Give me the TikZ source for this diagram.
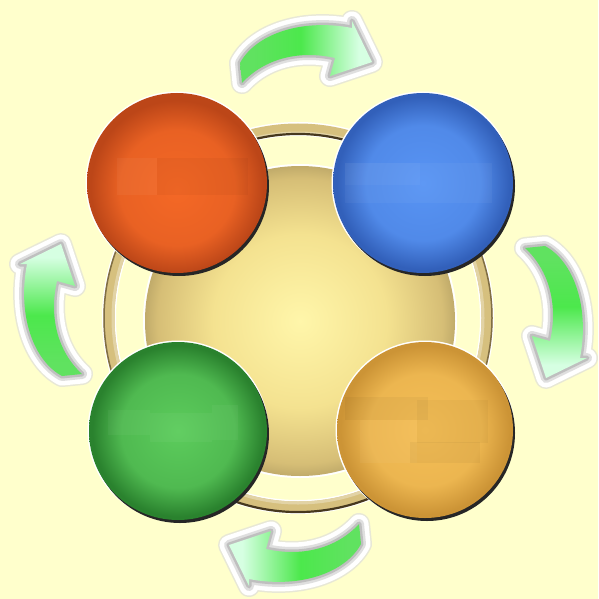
\documentclass[tikz,border=0pt]{standalone}
\definecolor{bg}{RGB}{255,255,204}
\definecolor{halo}{RGB}{232,232,214}
\definecolor{ringtan}{RGB}{214,192,126}
\definecolor{ringdark}{RGB}{70,56,30}
\definecolor{tailc}{RGB}{96,226,96}
\definecolor{midc}{RGB}{76,232,76}
\definecolor{headc}{RGB}{214,255,226}
\definecolor{ctrin}{RGB}{255,246,170}
\definecolor{ctrmid}{RGB}{244,226,144}
\definecolor{ctrout}{RGB}{214,190,118}
\definecolor{orin}{RGB}{244,104,38}
\definecolor{orout}{RGB}{188,70,24}
\definecolor{blin}{RGB}{88,148,244}
\definecolor{blout}{RGB}{50,96,186}
\definecolor{grin}{RGB}{92,204,92}
\definecolor{grout}{RGB}{42,130,46}
\definecolor{goin}{RGB}{244,190,86}
\definecolor{goout}{RGB}{204,148,54}
\pgfdeclarehorizontalshading{arrowshade}{100bp}{color(0bp)=(tailc); color(30bp)=(tailc); color(48bp)=(midc); color(70bp)=(headc); color(100bp)=(headc)}
\pgfdeclareradialshading{ctrshade}{\pgfpoint{0bp}{0bp}}{color(0bp)=(ctrin); color(14bp)=(ctrmid); color(23bp)=(ctrout); color(25bp)=(ctrout!90!black); color(50bp)=(ctrout)}
\pgfdeclareradialshading{orshade}{\pgfpoint{0bp}{-2bp}}{color(0bp)=(orin); color(16bp)=(orin!80!orout); color(24bp)=(orout); color(50bp)=(orout)}
\pgfdeclareradialshading{blshade}{\pgfpoint{0bp}{0bp}}{color(0bp)=(blin); color(16bp)=(blin!80!blout); color(24bp)=(blout); color(50bp)=(blout)}
\pgfdeclareradialshading{grshade}{\pgfpoint{0bp}{0bp}}{color(0bp)=(grin); color(16bp)=(grin!75!grout); color(24bp)=(grout); color(50bp)=(grout)}
\pgfdeclareradialshading{goshade}{\pgfpoint{0bp}{0bp}}{color(0bp)=(goin); color(16bp)=(goin!80!goout); color(24bp)=(goout); color(50bp)=(goout)}
\tikzset{
  cyclearrow/.pic={
    \draw[line width=22pt, draw=halo, line join=round]
      (-60,-247) .. controls (-45,-275) and (0,-292) .. (52,-282) -- (52,-289) -- (72,-248) -- (30,-234) -- (35,-252) .. controls (0,-260) and (-35,-252) .. (-58,-227) -- cycle;
    \draw[line width=19pt, draw=white, line join=round]
      (-60,-247) .. controls (-45,-275) and (0,-292) .. (52,-282) -- (52,-289) -- (72,-248) -- (30,-234) -- (35,-252) .. controls (0,-260) and (-35,-252) .. (-58,-227) -- cycle;
    \draw[line width=10pt, draw=gray!25, line join=round]
      (-60,-247) .. controls (-45,-275) and (0,-292) .. (52,-282) -- (52,-289) -- (72,-248) -- (30,-234) -- (35,-252) .. controls (0,-260) and (-35,-252) .. (-58,-227) -- cycle;
    \draw[line width=5pt, draw=gray!50, line join=round]
      (-60,-247) .. controls (-45,-275) and (0,-292) .. (52,-282) -- (52,-289) -- (72,-248) -- (30,-234) -- (35,-252) .. controls (0,-260) and (-35,-252) .. (-58,-227) -- cycle;
    \shade[shading=arrowshade, shading angle=#1]
      (-60,-247) .. controls (-45,-275) and (0,-292) .. (52,-282) -- (52,-289) -- (72,-248) -- (30,-234) -- (35,-252) .. controls (0,-260) and (-35,-252) .. (-58,-227) -- cycle;
  },
  ballhalo/.style={fill=white},
  ballshadow/.style={fill=black!85},
  label band/.style={fill=white, fill opacity=0.04}
}
\begin{document}
\begin{tikzpicture}[x=1pt,y=-1pt]
\useasboundingbox (0,0) rectangle (598,599);
\fill[bg] (0,0) rectangle (598,599);

% curved arrows (clockwise cycle)
\pic at (300,310) {cyclearrow=0};
\pic[rotate=-90] at (298,306) {cyclearrow=-90};
\pic[rotate=180] at (301,297) {cyclearrow=180};
\pic[rotate=90] at (309,316) {cyclearrow=90};

% outer ring
\coordinate (rc) at (298,318);
\draw[white, line width=14pt] (rc) circle[radius=189];
\draw[ringtan, line width=11pt] (rc) circle[radius=189];
\draw[ringtan!70!white, line width=3pt] (rc) circle[radius=185];
\draw[ringdark, line width=2.2pt] ([shift={(200:184)}]rc) arc[start angle=200, end angle=340, radius=184];
\draw[ringdark, line width=2.2pt] ([shift={(20:194)}]rc) arc[start angle=20, end angle=160, radius=194];
\draw[ringdark!60!ringtan, line width=1.5pt] ([shift={(160:194)}]rc) arc[start angle=160, end angle=200, radius=194];
\draw[ringdark!60!ringtan, line width=1.5pt] ([shift={(-20:194)}]rc) arc[start angle=-20, end angle=20, radius=194];

% centre disc
\coordinate (cc) at (300,321);
\fill[white] (cc) circle[radius=157];
\shade[shading=ctrshade] (cc) circle[radius=155];

% orange ball
\coordinate (ob) at (177,183);
\fill[ballhalo] (ob) circle[radius=91.5];
\fill[ballshadow] ([shift={(2,3)}]ob) circle[radius=90];
\shade[shading=orshade] (ob) circle[radius=90];
\fill[label band] (117,158) rectangle (157,195);
\fill[black, fill opacity=0.03] (157,158) rectangle (248,195);

% blue ball
\coordinate (bb) at (423,183);
\fill[ballhalo] (bb) circle[radius=91.5];
\fill[ballshadow] ([shift={(2,3)}]bb) circle[radius=90];
\shade[shading=blshade] (bb) circle[radius=90];
\fill[label band] (345,163) rectangle (492,203);
\fill[white, fill opacity=0.03] (345,163) rectangle (420,185);

% green ball
\coordinate (gb) at (178,431);
\fill[ballhalo] (gb) circle[radius=90.5];
\fill[ballshadow] ([shift={(2,3)}]gb) circle[radius=89];
\shade[shading=grshade] (gb) circle[radius=89];
\fill[label band] (108,410) rectangle (150,435);
\fill[label band] (150,413) rectangle (212,442);
\fill[label band] (212,405) rectangle (238,440);

% gold ball
\coordinate (ub) at (425,430);
\fill[ballhalo] (ub) circle[radius=89.5];
\fill[ballshadow] ([shift={(2,3)}]ub) circle[radius=88];
\shade[shading=goshade] (ub) circle[radius=88];
\fill[black, fill opacity=0.035] (345,397) rectangle (428,420);
\fill[white, fill opacity=0.04] (360,420) rectangle (417,463);
\fill[black, fill opacity=0.03] (417,400) rectangle (488,443);
\fill[black, fill opacity=0.035] (410,442) rectangle (480,463);
\end{tikzpicture}
\end{document}
